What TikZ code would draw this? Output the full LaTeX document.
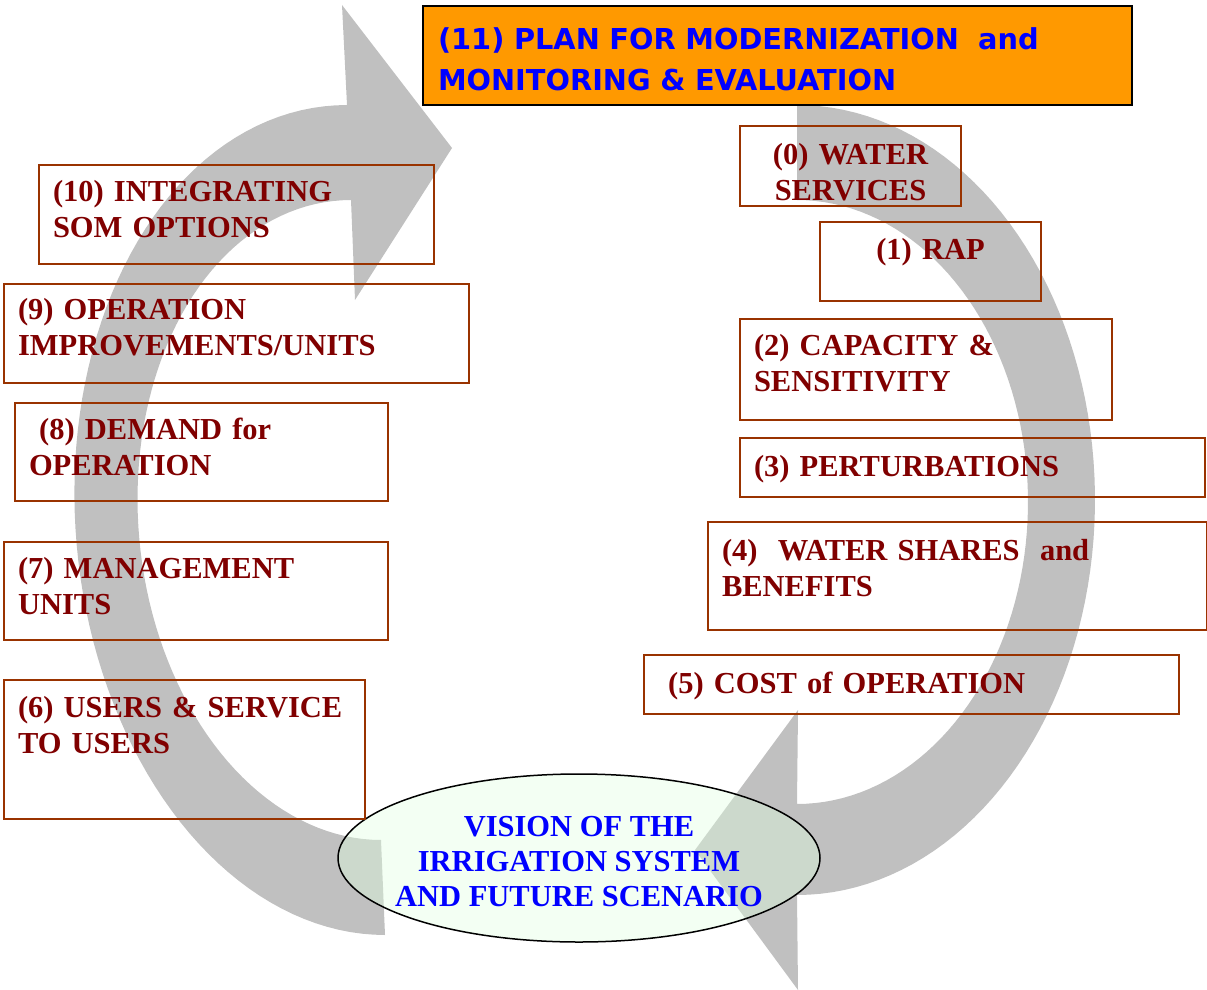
\documentclass[tikz,border=0pt]{standalone}
\usepackage{fontspec}
\setmainfont{Liberation Serif}
\newfontfamily\planfont{DejaVu Sans}
\usetikzlibrary{shapes.geometric}

\definecolor{arrowgray}{HTML}{C0C0C0}
\definecolor{boxbrown}{HTML}{993300}
\definecolor{darkred}{HTML}{800000}
\definecolor{planorange}{HTML}{FF9900}
\definecolor{visiongreen}{HTML}{E0FFE0}

\newcommand{\somfont}{\fontsize{30.5}{36}\selectfont\bfseries}
\newcommand{\visfont}{\fontsize{30.5}{35}\selectfont\bfseries}
\newcommand{\modfont}{\planfont\fontsize{28.8}{41}\selectfont\bfseries}

\tikzset{
	bigarrow/.style={fill=arrowgray},
	stage/.style={draw=boxbrown, line width=2pt, text=darkred, font=\somfont, align=left, anchor=north west, inner xsep=14pt, inner ysep=0pt},
	plan/.style={draw=black, line width=2pt, fill=planorange, text=blue, font=\modfont, align=left, anchor=north west, inner xsep=15pt, inner ysep=0pt},
	vision/.style={ellipse, draw=black, line width=1.5pt, fill=visiongreen, fill opacity=0.4, minimum width=482pt, minimum height=168pt, inner sep=0pt},
	visiontext/.style={text=blue, font=\visfont, align=center}
}

\begin{document}
\begin{tikzpicture}[x=1pt, y=-1pt]
		\useasboundingbox (0,0) rectangle (1207,990);
		
		\fill[bigarrow] plot[domain=90:270, samples=80, variable=\t] ({366+291*cos(\t)+19*sin(\t)},{520+415*sin(\t)})
			-- (342,5) -- (452,148) -- (355,300) -- (351,200)
			-- plot[domain=270:90, samples=80, variable=\t] ({366+228*cos(\t)+15*sin(\t)},{520+320*sin(\t)}) -- cycle;
		\fill[bigarrow] plot[domain=-90:90, samples=80, variable=\t] ({797+298*cos(\t)},{500+395*sin(\t)})
			-- (798,990) -- (695,850) -- (798,710) -- (797,804)
			-- plot[domain=90:-90, samples=80, variable=\t] ({797+231*cos(\t)},{502+302*sin(\t)}) -- cycle;
		
		\node[vision] (vision) at (579,858) {};
		\node[visiontext] (visiontxt) at ([yshift=-4pt]vision.center) {VISION OF THE\\IRRIGATION SYSTEM\\AND FUTURE SCENARIO};
		
		\node[plan, text width=679pt, text height=43pt, text depth=56pt] (s11) at (422,5) {(11) PLAN FOR MODERNIZATION\ \ and\\MONITORING \& EVALUATION};
		
		\node[stage, text width=367pt, text height=36pt, text depth=63pt] (s10) at (38,164) {(10) INTEGRATING\\SOM OPTIONS};
		\node[stage, text width=437pt, text height=35pt, text depth=64pt] (s9) at (3,283) {(9) OPERATION\\IMPROVEMENTS/UNITS};
		\node[stage, text width=345pt, text height=36pt, text depth=62pt] (s8) at (14,402) {\ (8) DEMAND for\\OPERATION};
		\node[stage, text width=356pt, text height=36pt, text depth=62pt] (s7) at (3,541) {(7) MANAGEMENT\\UNITS};
		\node[stage, text width=333pt, text height=37pt, text depth=102pt] (s6) at (3,679) {(6) USERS \& SERVICE\\TO USERS};
		
		\node[stage, align=center, text width=193pt, text height=38pt, text depth=42pt] (s0) at (739,125) {(0) WATER\\SERVICES};
		\node[stage, align=center, text width=193pt, text height=37pt, text depth=42pt] (s1) at (819,221) {(1) RAP};
		\node[stage, text width=344pt, text height=36pt, text depth=65pt] (s2) at (739,318) {(2) CAPACITY \&\\SENSITIVITY};
		\node[stage, text width=437pt, text height=38pt, text depth=21pt] (s3) at (739,437) {(3) PERTURBATIONS};
		\node[stage, text width=471pt, text height=38pt, text depth=70pt] (s4) at (707,521) {(4)\ \ WATER SHARES\ \ and\\BENEFITS};
		\node[stage, text width=507pt, text height=38pt, text depth=21pt] (s5) at (643,654) {\ (5) COST of OPERATION};
	\end{tikzpicture}
\end{document}
